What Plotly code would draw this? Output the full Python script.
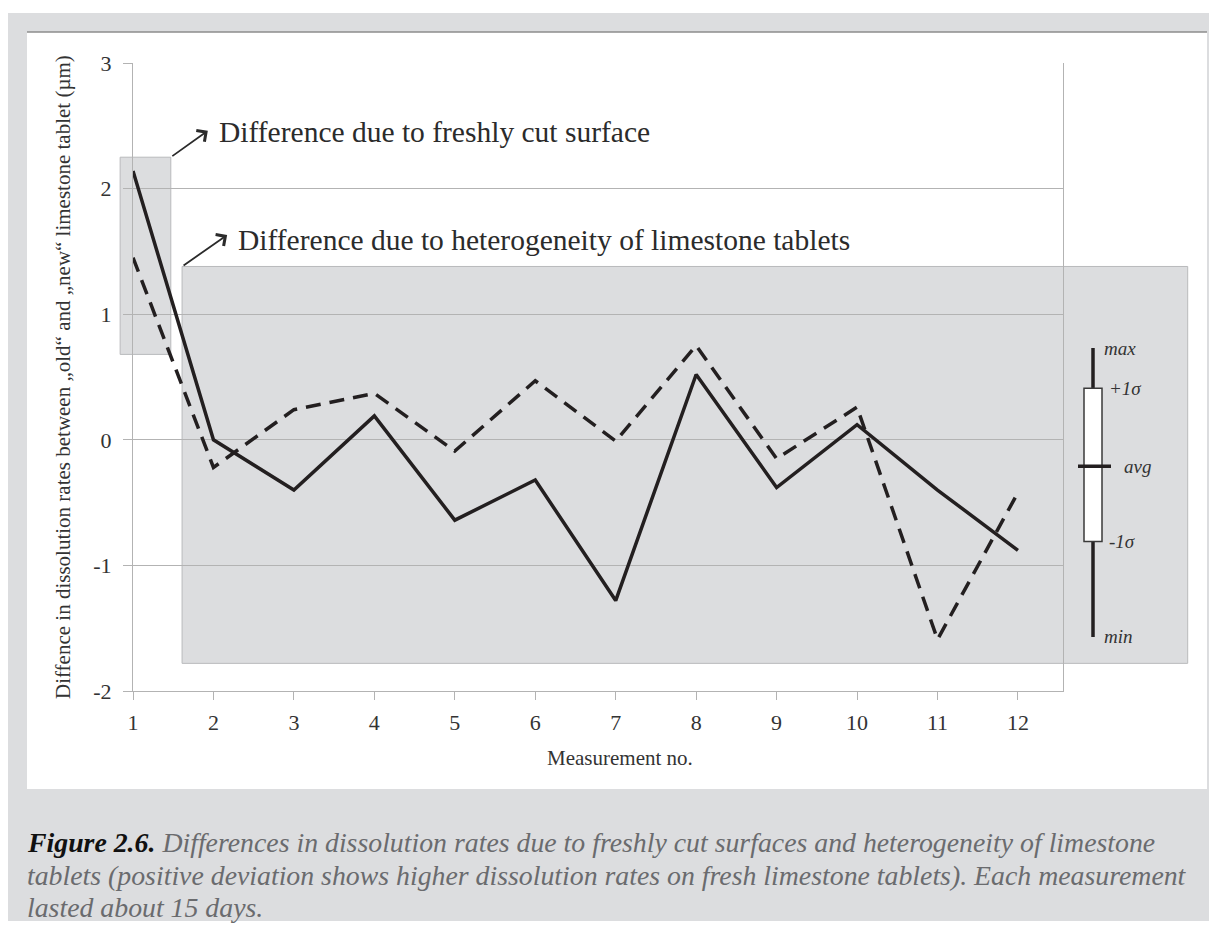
import plotly.graph_objects as go

# Measurement numbers and the two difference series (µm)
measurements = [1, 2, 3, 4, 5, 6, 7, 8, 9, 10, 11, 12]
solid_diff = [2.14, 0.0, -0.40, 0.19, -0.64, -0.32, -1.28, 0.52, -0.38, 0.12, -0.40, -0.88]
dashed_diff = [1.45, -0.22, 0.24, 0.37, -0.09, 0.47, -0.01, 0.75, -0.15, 0.26, -1.59, -0.42]

y_tickvals = [-2, -1, 0, 1, 2, 3]
y_ticklabels = ["-2", "-1", "0", "1", "2", "3"]
x_ticklabels = [str(m) for m in measurements]

# Highlighted regions (data units)
fresh_box = dict(x0=0.84, x1=1.47, y0=0.68, y1=2.25)
hetero_box = dict(x0=1.61, x1=14.11, y0=-1.78, y1=1.38)

# Box-plot key (data units on y)
key_max, key_plus, key_avg, key_minus, key_min = 0.73, 0.41, -0.21, -0.81, -1.57

W, H = 1209, 934
L, R, T, B = 133, 1063, 63, 691
XMIN, XMAX = 1.0, 12.56
YMIN, YMAX = -2.0, 3.0

FONT = "Liberation Serif"
INK = "#231f20"
GRID = "#b3b3b3"
PAGE_GRAY = "#dcdddf"


def px_x(px):
    return (px - L) / (R - L)


def px_y(py):
    return (B - py) / (B - T)


def dx(v):
    return (v - XMIN) / (XMAX - XMIN)


def dy(v):
    return (v - YMIN) / (YMAX - YMIN)


fig = go.Figure()

fig.add_trace(go.Scatter(
    x=measurements, y=dashed_diff, mode="lines",
    line=dict(color=INK, width=3.5, dash="15px,9px"),
    showlegend=False, hoverinfo="skip",
))
fig.add_trace(go.Scatter(
    x=measurements, y=solid_diff, mode="lines",
    line=dict(color=INK, width=3.5),
    showlegend=False, hoverinfo="skip",
))

shapes = []
# page frame and white chart panel
shapes.append(dict(type="rect", xref="paper", yref="paper", layer="below",
                   x0=px_x(8), x1=px_x(1212), y0=px_y(13), y1=px_y(921),
                   fillcolor=PAGE_GRAY, line=dict(width=0)))
shapes.append(dict(type="rect", xref="paper", yref="paper", layer="below",
                   x0=px_x(27), x1=px_x(1207), y0=px_y(32), y1=px_y(789),
                   fillcolor="white", line=dict(width=0)))
shapes.append(dict(type="line", xref="paper", yref="paper", layer="below",
                   x0=px_x(27), x1=px_x(1207), y0=px_y(32), y1=px_y(32),
                   line=dict(color="#8c8c8c", width=1.5)))

# shaded regions
for bx in (fresh_box, hetero_box):
    shapes.append(dict(type="rect", xref="paper", yref="paper", layer="below",
                       x0=dx(bx["x0"]), x1=dx(bx["x1"]),
                       y0=dy(bx["y0"]), y1=dy(bx["y1"]),
                       fillcolor=PAGE_GRAY, line=dict(color="#b9babc", width=1)))

# box-plot key
kx = px_x(1093)
shapes.append(dict(type="line", xref="paper", yref="paper", layer="below",
                   x0=kx, x1=kx, y0=dy(key_min), y1=dy(key_max),
                   line=dict(color=INK, width=3.5)))
shapes.append(dict(type="rect", xref="paper", yref="paper", layer="below",
                   x0=px_x(1084), x1=px_x(1102), y0=dy(key_minus), y1=dy(key_plus),
                   fillcolor="white", line=dict(color="#3a3a3a", width=1.5)))
shapes.append(dict(type="line", xref="paper", yref="paper", layer="below",
                   x0=px_x(1078), x1=px_x(1111), y0=dy(key_avg), y1=dy(key_avg),
                   line=dict(color=INK, width=3.5)))

annotations = []
key_font = dict(family=FONT, size=19, color="#333333")
for label, yv, left in (("max", key_max, 1102), ("+1σ", key_plus, 1107),
                        ("avg", key_avg, 1122), ("-1σ", key_minus, 1107),
                        ("min", key_min, 1102)):
    annotations.append(dict(xref="paper", yref="paper", x=px_x(left), y=dy(yv),
                            xanchor="left", yanchor="middle", showarrow=False,
                            text=f"<i>{label}</i>", font=key_font))

# arrows and region labels
label_font = dict(family=FONT, size=29.5, color="#2b2b2b")
annotations.append(dict(xref="x", yref="y", axref="x", ayref="y",
                        x=1.93, y=2.46, ax=fresh_box["x1"], ay=fresh_box["y1"],
                        text="", showarrow=True, arrowhead=4, arrowsize=1.5,
                        arrowwidth=1.8, arrowcolor="#2b2b2b"))
annotations.append(dict(xref="x", yref="y", x=2.05, y=2.45, xanchor="left",
                        yanchor="middle", showarrow=False,
                        text="Difference due to freshly cut surface", font=label_font))
annotations.append(dict(xref="x", yref="y", axref="x", ayref="y",
                        x=2.17, y=1.63, ax=hetero_box["x0"], ay=hetero_box["y1"],
                        text="", showarrow=True, arrowhead=4, arrowsize=1.5,
                        arrowwidth=1.8, arrowcolor="#2b2b2b"))
annotations.append(dict(xref="x", yref="y", x=2.28, y=1.59, xanchor="left",
                        yanchor="middle", showarrow=False,
                        text="Difference due to heterogeneity of limestone tablets",
                        font=label_font))

# axis titles
annotations.append(dict(xref="paper", yref="paper", x=px_x(63), y=0.5,
                        xanchor="center", yanchor="middle", textangle=-90,
                        showarrow=False,
                        text="Diffence in dissolution rates between „old“ and „new“ limestone tablet (µm)",
                        font=dict(family=FONT, size=21, color="#333333")))
annotations.append(dict(xref="paper", yref="paper", x=px_x(620), y=px_y(758),
                        xanchor="center", yanchor="middle", showarrow=False,
                        text="Measurement no.",
                        font=dict(family=FONT, size=21, color="#333333")))

# caption
cap_font = dict(family=FONT, size=27.8, color="#6a6b6e")
caption_lines = [
    "<b><i><span style='color:#111111'>Figure 2.6.</span></i></b> <i>Differences in dissolution rates due to freshly cut surfaces and heterogeneity of limestone</i>",
    "<i>tablets (positive deviation shows higher dissolution rates on fresh limestone tablets). Each measurement</i>",
    "<i>lasted about 15 days.</i>",
]
for line, py in zip(caption_lines, (842, 875, 907)):
    annotations.append(dict(xref="paper", yref="paper", x=px_x(25), y=px_y(py),
                            xanchor="left", yanchor="middle", showarrow=False,
                            text=line, font=cap_font))

fig.update_layout(
    width=W, height=H,
    margin=dict(l=L, r=W - R, t=T, b=H - B),
    paper_bgcolor="white",
    plot_bgcolor="rgba(0,0,0,0)",
    shapes=shapes,
    annotations=annotations,
    xaxis=dict(range=[XMIN, XMAX], tickvals=measurements, ticktext=x_ticklabels,
               showgrid=False, zeroline=False, showline=True, linecolor=GRID,
               linewidth=1, ticks="outside", ticklen=8, tickcolor=GRID,
               tickfont=dict(family=FONT, size=22, color="#333333"),
               ticklabelstandoff=4),
    yaxis=dict(range=[YMIN, YMAX], tickvals=y_tickvals, ticktext=y_ticklabels,
               showgrid=True, gridcolor=GRID, gridwidth=1, zeroline=False,
               showline=True, mirror=True, linecolor=GRID, linewidth=1,
               ticks="outside", ticklen=9, tickcolor=GRID,
               tickfont=dict(family=FONT, size=22, color="#333333"),
               ticklabelstandoff=7),
)

fig.write_html("out.html")
